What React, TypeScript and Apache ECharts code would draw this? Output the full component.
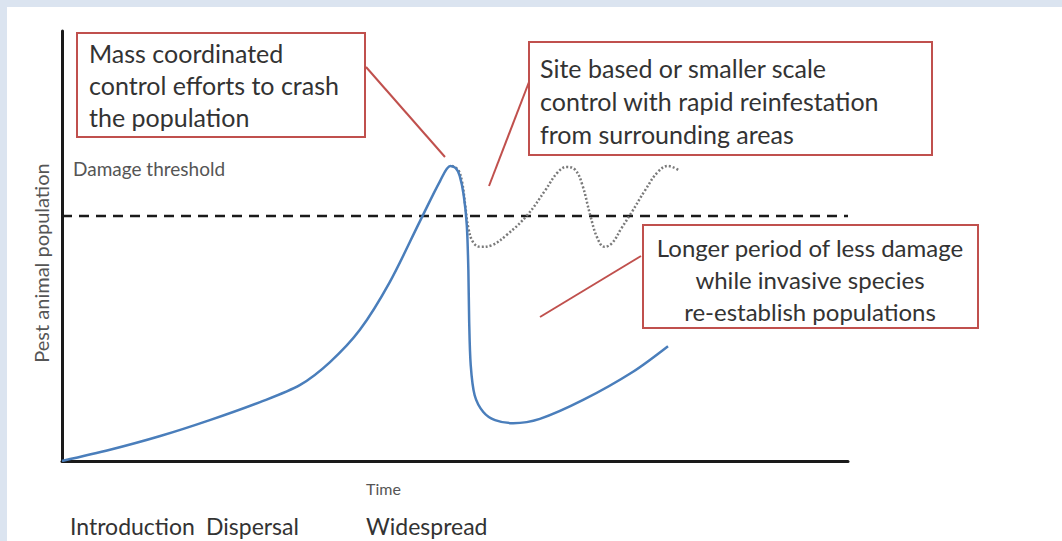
import React, { useEffect, useRef } from "react";
import * as echarts from "echarts";

// Blue curve: population under mass coordinated control (time %, population %)
const mainTime = [0, 6.1, 12.5, 18.8, 25.2, 30.3, 34.1, 37.9, 41.7, 45.5, 48.1, 49.4, 50.1, 50.6, 51.1, 51.5, 51.7, 51.8, 52.0, 52.5, 53.6, 55.1, 57.4, 60.8, 66.3, 72.6, 77.1];
const mainPop = [0, 2.6, 5.8, 9.5, 13.7, 17.7, 23.0, 30.5, 41.6, 55.6, 65.1, 68.6, 68.1, 66.3, 61.9, 54.9, 44.4, 32.8, 22.3, 15.3, 11.4, 9.5, 8.8, 9.8, 14.2, 20.7, 26.7];

// Dotted curve: site based control with rapid reinfestation
const siteTime = [49.6, 50.4, 50.9, 51.3, 51.7, 52.3, 53.2, 54.7, 56.6, 59.2, 61.5, 63.0, 64.2, 65.3, 66.2, 67.2, 68.1, 69.0, 70.0, 71.2, 72.5, 74.2, 75.8, 77.1, 78.4];
const sitePop = [68.6, 67.7, 64.9, 59.5, 54.2, 50.9, 49.8, 50.2, 52.6, 57.2, 63.0, 67.0, 68.4, 67.7, 64.2, 57.2, 51.9, 49.8, 50.7, 54.2, 57.9, 63.0, 67.2, 68.6, 67.7];

// Damage threshold level
const thresholdLevel = 57;
const thresholdSpan = [0, 100];

const stageLabels = ["Introduction", "Dispersal", "Widespread"];
const axisNames = ["Time", "Pest animal population"];
const boxTexts = [
  "Mass coordinated\ncontrol efforts to crash\nthe population",
  "Site based or smaller scale\ncontrol with rapid reinfestation\nfrom surrounding areas",
  "Longer period of less damage\nwhile invasive species\nre-establish populations",
];

const RED = "#c0504d";
const FONT = "Lato, 'Noto Sans', sans-serif";

export default function App() {
  const ref = useRef<HTMLDivElement>(null);
  useEffect(() => {
    document.body.style.margin = "0";
    const chart = echarts.init(ref.current!, undefined, { renderer: "svg" });
    const mainData = mainTime.map((t, i) => [t, mainPop[i]]);
    const siteData = siteTime.map((t, i) => [t, sitePop[i]]);
    const thrData = thresholdSpan.map((t) => [t, thresholdLevel]);
    chart.setOption({
      animation: false,
      backgroundColor: "#dbe4f0",
      grid: { left: 62, top: 31, right: 214, bottom: 80 },
      xAxis: {
        type: "value",
        min: 0,
        max: 100,
        axisLine: { show: true, lineStyle: { color: "#1a1a1a", width: 3 } },
        axisTick: { show: false },
        axisLabel: { show: false },
        splitLine: { show: false },
      },
      yAxis: {
        type: "value",
        min: 0,
        max: 100,
        axisLine: { show: true, lineStyle: { color: "#1a1a1a", width: 3 } },
        axisTick: { show: false },
        axisLabel: { show: false },
        splitLine: { show: false },
      },
      graphic: [
        { type: "rect", z: -10, silent: true, shape: { x: 7, y: 7, width: 1062, height: 541 }, style: { fill: "#ffffff" } },
        // Box 1
        { type: "rect", shape: { x: 77, y: 33, width: 288, height: 104 }, style: { fill: "#fff", stroke: RED, lineWidth: 2 } },
        { type: "text", x: 89, y: 37, style: { text: boxTexts[0], font: `25px ${FONT}`, lineHeight: 32, fill: "#333", verticalAlign: "top" } },
        { type: "line", shape: { x1: 366, y1: 67, x2: 445, y2: 157 }, style: { stroke: RED, lineWidth: 2 } },
        // Box 2
        { type: "rect", shape: { x: 529, y: 42, width: 403, height: 113 }, style: { fill: "#fff", stroke: RED, lineWidth: 2 } },
        { type: "text", x: 540, y: 51, style: { text: boxTexts[1], font: `25px ${FONT}`, lineHeight: 33, fill: "#333", verticalAlign: "top" } },
        { type: "line", shape: { x1: 529, y1: 82, x2: 489, y2: 186 }, style: { stroke: RED, lineWidth: 2 } },
        // Box 3
        { type: "rect", shape: { x: 643, y: 225, width: 335, height: 103 }, style: { fill: "#fff", stroke: RED, lineWidth: 2 } },
        { type: "text", x: 810, y: 231, style: { text: boxTexts[2], font: `24px ${FONT}`, lineHeight: 32, fill: "#333", align: "center", verticalAlign: "top" } },
        { type: "line", shape: { x1: 641, y1: 256, x2: 540, y2: 317 }, style: { stroke: RED, lineWidth: 2 } },
        // Labels
        { type: "text", x: 73, y: 168, style: { text: "Damage threshold", font: `19px ${FONT}`, fill: "#555", verticalAlign: "middle" } },
        { type: "text", x: 41, y: 263, rotation: Math.PI / 2, style: { text: axisNames[1], font: `20px ${FONT}`, fill: "#555", align: "center", verticalAlign: "middle" } },
        { type: "text", x: 366, y: 488, style: { text: axisNames[0], font: `16px ${FONT}`, fill: "#555", verticalAlign: "middle" } },
        { type: "text", x: 70, y: 526, style: { text: stageLabels[0], font: `23px ${FONT}`, fill: "#333", verticalAlign: "middle" } },
        { type: "text", x: 206, y: 526, style: { text: stageLabels[1], font: `23px ${FONT}`, fill: "#333", verticalAlign: "middle" } },
        { type: "text", x: 366, y: 526, style: { text: stageLabels[2], font: `23px ${FONT}`, fill: "#333", verticalAlign: "middle" } },
      ],
      series: [
        {
          type: "line",
          data: thrData,
          symbol: "none",
          lineStyle: { color: "#1a1a1a", width: 2.5, type: [10, 7] },
          z: 1,
        },
        {
          type: "line",
          data: siteData,
          symbol: "none",
          smooth: 0.4,
          lineStyle: { color: "#7a7a7a", width: 2.5, type: [2, 2] },
          z: 2,
        },
        {
          type: "line",
          data: mainData,
          symbol: "none",
          smooth: 0.3,
          lineStyle: { color: "#4a7ebb", width: 2.5 },
          z: 3,
        },
      ],
    });
    return () => chart.dispose();
  }, []);
  return <div ref={ref} style={{ width: 1062, height: 541 }} />;
}
